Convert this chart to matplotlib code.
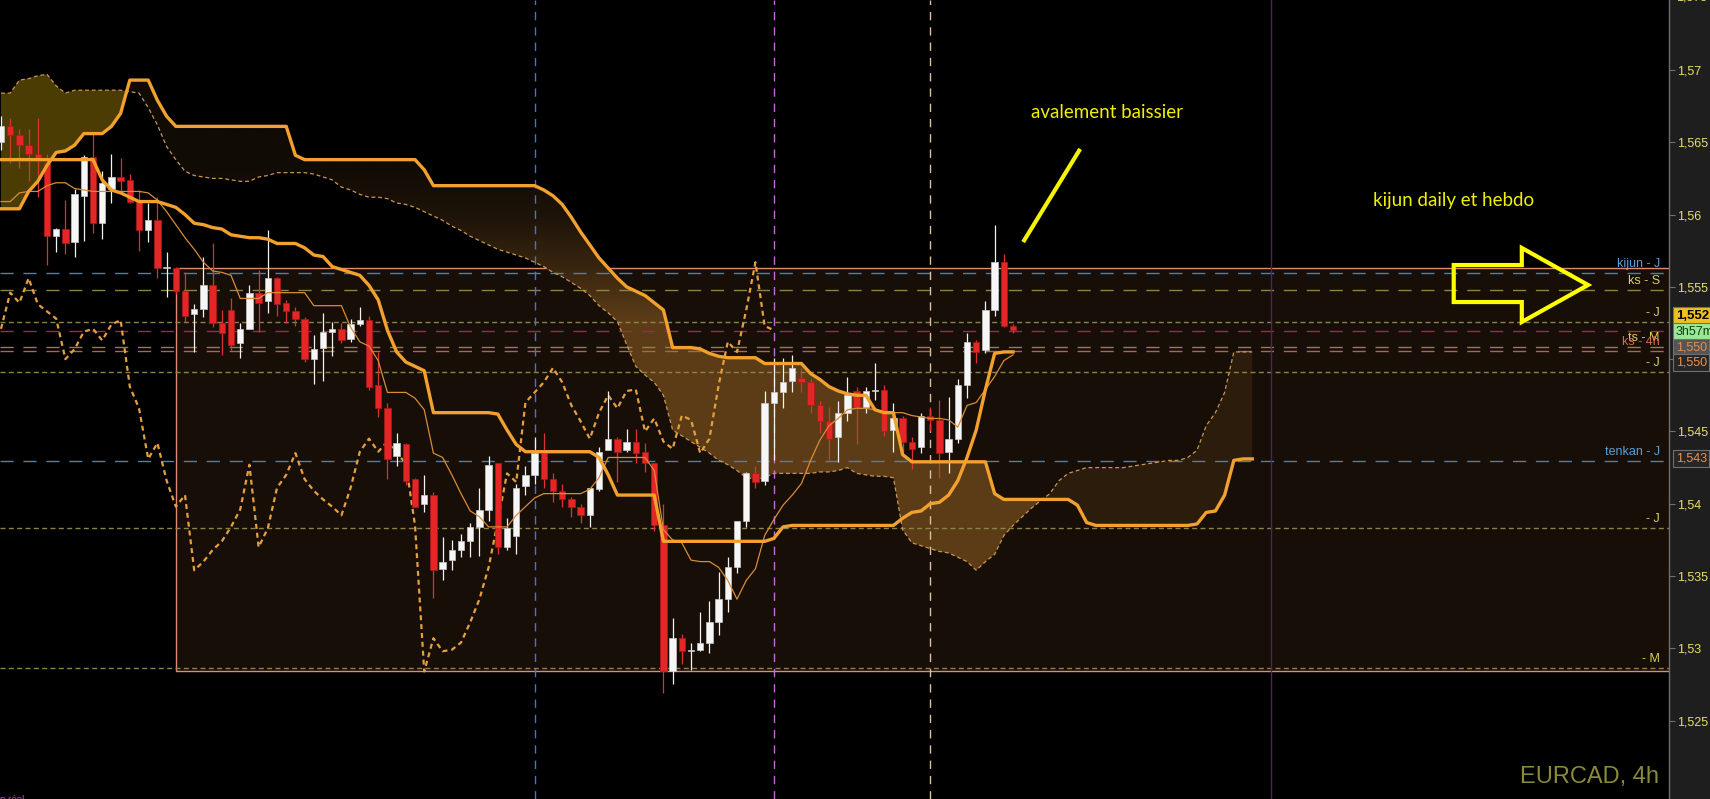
import matplotlib
matplotlib.use("Agg")
import matplotlib.pyplot as plt
import matplotlib.transforms as mtransforms
from matplotlib.colors import LinearSegmentedColormap
from matplotlib.patches import Rectangle, Polygon
from matplotlib.path import Path
import numpy as np

plt.rcParams['font.family'] = ['Liberation Sans', 'DejaVu Sans']
plt.rcParams['lines.scale_dashes'] = False

# EURCAD 4h candles, bar 0 = first candle on the left
opens = [
    1.5650, 1.5661, 1.5655, 1.5648, 1.5642, 1.5636, 1.5585, 1.5590, 1.5581, 1.5613,
    1.5640, 1.5594, 1.5618, 1.5626, 1.5624, 1.5609, 1.5589, 1.5596, 1.5563, 1.5563,
    1.5547, 1.5531, 1.5535, 1.5551, 1.5525, 1.5534, 1.5511, 1.5521, 1.5546, 1.5540,
    1.5556, 1.5539, 1.5533, 1.5528, 1.5500, 1.5508, 1.5519, 1.5521, 1.5514, 1.5524,
    1.5527, 1.5482, 1.5466, 1.5433, 1.5441, 1.5417, 1.5400, 1.5406, 1.5355, 1.5361,
    1.5368, 1.5374, 1.5384, 1.5396, 1.5428, 1.5370, 1.5378, 1.5412, 1.5420, 1.5435,
    1.5417, 1.5409, 1.5403, 1.5398, 1.5392, 1.5410, 1.5437, 1.5445, 1.5437, 1.5443,
    1.5436, 1.5428, 1.5385, 1.5284, 1.5307, 1.5298, 1.5299, 1.5304, 1.5318, 1.5334,
    1.5356, 1.5388, 1.5421, 1.5416, 1.5470, 1.5477, 1.5485, 1.5487, 1.5484, 1.5468,
    1.5457, 1.5446, 1.5463, 1.5478, 1.5467, 1.5478, 1.5479, 1.5451, 1.5459, 1.5443,
    1.5439, 1.5461, 1.5458, 1.5436, 1.5445, 1.5482, 1.5512, 1.5506, 1.5534, 1.5567,
    1.5523]
highs = [
    1.5668, 1.5667, 1.5659, 1.5659, 1.5667, 1.5642, 1.5591, 1.5610, 1.5618, 1.5641,
    1.5656, 1.5630, 1.5642, 1.5639, 1.5628, 1.5617, 1.5608, 1.5612, 1.5574, 1.5564,
    1.5560, 1.5538, 1.5571, 1.5580, 1.5534, 1.5542, 1.5525, 1.5551, 1.5562, 1.5589,
    1.5557, 1.5541, 1.5536, 1.5529, 1.5517, 1.5532, 1.5526, 1.5525, 1.5528, 1.5536,
    1.5530, 1.5505, 1.5470, 1.5449, 1.5442, 1.5418, 1.5420, 1.5408, 1.5377, 1.5375,
    1.5379, 1.5387, 1.5411, 1.5433, 1.5428, 1.5390, 1.5414, 1.5426, 1.5446, 1.5449,
    1.5421, 1.5414, 1.5405, 1.5400, 1.5411, 1.5439, 1.5478, 1.5446, 1.5452, 1.5452,
    1.5442, 1.5428, 1.5400, 1.5321, 1.5310, 1.5304, 1.5325, 1.5333, 1.5353, 1.5363,
    1.5388, 1.5422, 1.5426, 1.5478, 1.5501, 1.5501, 1.5503, 1.5494, 1.5486, 1.5471,
    1.5467, 1.5471, 1.5488, 1.5481, 1.5481, 1.5497, 1.5482, 1.5470, 1.5461, 1.5446,
    1.5463, 1.5467, 1.5472, 1.5474, 1.5486, 1.5518, 1.5513, 1.5540, 1.5593, 1.5573,
    1.5524]
lows = [
    1.5645, 1.5636, 1.5632, 1.5623, 1.5612, 1.5565, 1.5574, 1.5573, 1.5571, 1.5582,
    1.5587, 1.5583, 1.5608, 1.5615, 1.5608, 1.5575, 1.5581, 1.5556, 1.5543, 1.5545,
    1.5526, 1.5505, 1.5529, 1.5522, 1.5503, 1.5506, 1.5501, 1.5521, 1.5519, 1.5532,
    1.5530, 1.5525, 1.5523, 1.5498, 1.5483, 1.5485, 1.5502, 1.5511, 1.5512, 1.5523,
    1.5479, 1.5460, 1.5417, 1.5426, 1.5413, 1.5398, 1.5394, 1.5335, 1.5347, 1.5354,
    1.5363, 1.5363, 1.5364, 1.5388, 1.5365, 1.5368, 1.5365, 1.5406, 1.5414, 1.5411,
    1.5401, 1.5398, 1.5391, 1.5387, 1.5384, 1.5409, 1.5437, 1.5415, 1.5436, 1.5428,
    1.5422, 1.5381, 1.5269, 1.5275, 1.5289, 1.5285, 1.5298, 1.5297, 1.5309, 1.5325,
    1.5352, 1.5384, 1.5411, 1.5413, 1.5430, 1.5466, 1.5477, 1.5477, 1.5463, 1.5449,
    1.5430, 1.5429, 1.5457, 1.5441, 1.5463, 1.5472, 1.5447, 1.5436, 1.5436, 1.5424,
    1.5435, 1.5450, 1.5418, 1.5421, 1.5442, 1.5473, 1.5497, 1.5504, 1.5530, 1.5522,
    1.5518]
closes = [
    1.5661, 1.5655, 1.5648, 1.5642, 1.5638, 1.5585, 1.5590, 1.5580, 1.5614, 1.5640,
    1.5594, 1.5622, 1.5626, 1.5623, 1.5609, 1.5589, 1.5596, 1.5563, 1.5564, 1.5547,
    1.5530, 1.5535, 1.5551, 1.5525, 1.5518, 1.5510, 1.5521, 1.5546, 1.5539, 1.5556,
    1.5538, 1.5533, 1.5528, 1.5500, 1.5507, 1.5519, 1.5521, 1.5513, 1.5524, 1.5527,
    1.5481, 1.5466, 1.5431, 1.5442, 1.5416, 1.5398, 1.5406, 1.5354, 1.5360, 1.5368,
    1.5374, 1.5384, 1.5396, 1.5427, 1.5370, 1.5383, 1.5411, 1.5420, 1.5435, 1.5417,
    1.5409, 1.5403, 1.5398, 1.5392, 1.5411, 1.5436, 1.5445, 1.5436, 1.5443, 1.5435,
    1.5428, 1.5385, 1.5284, 1.5307, 1.5298, 1.5299, 1.5304, 1.5318, 1.5334, 1.5356,
    1.5388, 1.5421, 1.5415, 1.5470, 1.5477, 1.5484, 1.5494, 1.5484, 1.5468, 1.5457,
    1.5445, 1.5463, 1.5475, 1.5466, 1.5478, 1.5479, 1.5450, 1.5459, 1.5443, 1.5438,
    1.5461, 1.5458, 1.5435, 1.5445, 1.5482, 1.5512, 1.5505, 1.5534, 1.5567, 1.5523,
    1.5520]

# ichimoku lines
tenkan = [
    1.5609, 1.5609, 1.5615, 1.5616, 1.5616, 1.5620, 1.5622, 1.5622, 1.5618, 1.5617,
    1.5616, 1.5616, 1.5616, 1.5616, 1.5616, 1.5616, 1.5615, 1.5610, 1.5602, 1.5593,
    1.5584, 1.5576, 1.5567, 1.5561, 1.5560, 1.5558, 1.5542, 1.5542, 1.5542, 1.5546,
    1.5546, 1.5546, 1.5546, 1.5546, 1.5537, 1.5537, 1.5537, 1.5537, 1.5522, 1.5512,
    1.5509, 1.5499, 1.5477, 1.5477, 1.5477, 1.5473, 1.5465, 1.5435, 1.5432, 1.5420,
    1.5407, 1.5395, 1.5391, 1.5384, 1.5384, 1.5384, 1.5392, 1.5398, 1.5404, 1.5407,
    1.5407, 1.5407, 1.5407, 1.5407, 1.5410, 1.5418, 1.5432, 1.5432, 1.5432, 1.5432,
    1.5432, 1.5423, 1.5382, 1.5375, 1.5373, 1.5361, 1.5360, 1.5360, 1.5356, 1.5347,
    1.5334, 1.5347, 1.5355, 1.5378, 1.5389, 1.5399, 1.5406, 1.5414, 1.5430, 1.5444,
    1.5454, 1.5459, 1.5465, 1.5466, 1.5466, 1.5465, 1.5463, 1.5463, 1.5463, 1.5461,
    1.5460, 1.5459, 1.5459, 1.5458, 1.5453, 1.5468, 1.5470, 1.5479, 1.5488, 1.5499,
    1.5503]
kijun = ([1.5638] * 11 +
         [1.5624, 1.5617, 1.5615, 1.5612, 1.5609, 1.5609, 1.5609, 1.5607, 1.5605,
          1.5600, 1.5594, 1.5593, 1.5591, 1.5590, 1.5586, 1.5585, 1.5584, 1.5584, 1.5583,
          1.5580, 1.5580, 1.5580, 1.5577, 1.5572, 1.5571, 1.5564, 1.5562, 1.5560, 1.5558,
          1.5551, 1.5541, 1.5520, 1.5505, 1.5498, 1.5495, 1.5492] +
         [1.5463] * 7 + [1.5462, 1.5451, 1.5441, 1.5436] + [1.5436] * 7 +
         [1.5432, 1.5420, 1.5406] + [1.5406] * 4 + [1.5374] * 12 + [1.5376, 1.5384] +
         [1.5385] * 12 +
         [1.5390, 1.5394, 1.5395, 1.5400, 1.5401, 1.5406, 1.5416, 1.5432, 1.5451,
          1.5479, 1.5504, 1.5505, 1.5505])
senkou_a = [
    1.5684, 1.5684, 1.5693, 1.5694, 1.5696, 1.5697, 1.5689, 1.5684, 1.5686, 1.5686,
    1.5686, 1.5686, 1.5686, 1.5686, 1.5685, 1.5684, 1.5674, 1.5662, 1.5647, 1.5638,
    1.5630, 1.5627, 1.5626, 1.5625, 1.5625, 1.5624, 1.5623, 1.5623, 1.5626, 1.5627,
    1.5629, 1.5629, 1.5629, 1.5629, 1.5628, 1.5626, 1.5624, 1.5619, 1.5617, 1.5614,
    1.5612, 1.5612, 1.5611, 1.5608, 1.5607, 1.5605, 1.5602, 1.5599, 1.5596, 1.5592,
    1.5589, 1.5585, 1.5582, 1.5579, 1.5576, 1.5574, 1.5572, 1.5570, 1.5567, 1.5564,
    1.5560, 1.5557, 1.5553, 1.5549, 1.5544, 1.5537, 1.5532, 1.5526, 1.5510, 1.5495,
    1.5489, 1.5484, 1.5475, 1.5451, 1.5447, 1.5443, 1.5439, 1.5435, 1.5430, 1.5427,
    1.5423, 1.5418, 1.5417, 1.5418, 1.5421, 1.5421, 1.5421, 1.5421, 1.5421, 1.5422,
    1.5422, 1.5423, 1.5425, 1.5421, 1.5420, 1.5419, 1.5419, 1.5418, 1.5382, 1.5373,
    1.5371, 1.5369, 1.5367, 1.5366, 1.5363, 1.5360, 1.5354, 1.5360, 1.5365, 1.5378,
    1.5385, 1.5391, 1.5397, 1.5402, 1.5407, 1.5416, 1.5421, 1.5423, 1.5425, 1.5425,
    1.5425, 1.5425, 1.5425, 1.5426, 1.5427, 1.5428, 1.5429, 1.5430, 1.5430, 1.5432,
    1.5437, 1.5454, 1.5463, 1.5477, 1.5505, 1.5505, 1.5505]
senkou_b = ([1.5604, 1.5604, 1.5604, 1.5616, 1.5623, 1.5634, 1.5643, 1.5644, 1.5648, 1.5656,
             1.5656, 1.5656, 1.5661, 1.5670, 1.5693, 1.5693, 1.5693, 1.5679, 1.5668, 1.5661] +
            [1.5661] * 12 + [1.5641, 1.5638] + [1.5638] * 12 + [1.5631, 1.5620] +
            [1.5620] * 10 +
            [1.5620, 1.5617, 1.5613, 1.5607, 1.5598, 1.5588, 1.5579, 1.5570, 1.5563, 1.5556,
             1.5550, 1.5547, 1.5544, 1.5539, 1.5534, 1.5508, 1.5508, 1.5508, 1.5507, 1.5504,
             1.5502, 1.5501, 1.5501, 1.5501, 1.5501, 1.5497, 1.5497, 1.5497, 1.5497, 1.5497,
             1.5490, 1.5486, 1.5481, 1.5478, 1.5476, 1.5475, 1.5475, 1.5465, 1.5463, 1.5463,
             1.5434, 1.5429] + [1.5429] * 8 + [1.5407, 1.5403] + [1.5403] * 7 +
            [1.5399, 1.5387, 1.5385] + [1.5385] * 10 +
            [1.5386, 1.5394, 1.5395, 1.5406, 1.5430, 1.5431, 1.5431])
chikou_shift = 26

# horizontal levels drawn across the chart
level_prices = [1.55596, 1.55478, 1.55257, 1.55195, 1.55084, 1.55057, 1.54911, 1.54296, 1.53832, 1.52864]
level_names = ['kijun - J', 'ks - S', '- J', '', 'ts - M', 'ks - 4h', '- J', 'tenkan - J', '- J', '- M']

# boxed zone and vertical markers
zone_start = 19
zone_top = 1.5563
zone_bottom = 1.52843
vline_bars = [58, 84, 101, 138]

ytick_values = [1.525, 1.53, 1.535, 1.54, 1.545, 1.55, 1.555, 1.56, 1.565, 1.57]
ytick_labels = ['1,525', '1,53', '1,535', '1,54', '1,545', '1,55', '1,555', '1,56', '1,565', '1,57']

tag_texts = ['1,552', '3h57m', '1,550', '1,550', '1,543']
tag_prices = [1.5530, 1.5519, 1.5508, 1.5498, 1.5431]

# ---------------------------------------------------------------
fig = plt.figure(figsize=(17.1, 7.99), dpi=100, facecolor='#1e1e1e')
ax = fig.add_axes([0, 0, 1669 / 1710, 1])
ax.set_facecolor('black')

o = np.array(opens); h = np.array(highs); l = np.array(lows); c = np.array(closes)
idx = np.arange(len(c))
sa = np.array(senkou_a); sb = np.array(senkou_b); xc = np.arange(len(sa))

# zone rectangle
ax.add_patch(Rectangle((zone_start, zone_bottom), 250, zone_top - zone_bottom,
                       facecolor='#170e08', edgecolor='#e08a72', lw=1.0, zorder=0.8))

# cloud
ax.fill_between(xc, sa, sb, where=(sa > sb) & (xc < 50), interpolate=True,
                facecolor='#4b3c04', edgecolor='none', zorder=1.1)
ax.fill_between(xc, sa, sb, where=(sa > sb) & (xc > 100), interpolate=True,
                facecolor='#2b1c0b', edgecolor='none', zorder=1.1)
bear = ax.fill_between(xc, sa, sb, where=sb > sa, interpolate=True,
                       facecolor='none', edgecolor='none', zorder=1.1)
clip = Path.make_compound_path(*bear.get_paths())
cloud_cmap = LinearSegmentedColormap.from_list('cloud', ['#5c3c17', '#3a260f', '#1e1409', '#110b05'])
yy = np.linspace(1.525, 1.575, 400)
frac = np.clip((yy - 1.5528) / 0.0105, 0, 1)
img = ax.imshow(frac.reshape(-1, 1), extent=[-2, 140, 1.525, 1.575], origin='lower',
                aspect='auto', cmap=cloud_cmap, vmin=0, vmax=1, zorder=1.2,
                interpolation='bilinear')
img.set_clip_path(clip, ax.transData)

# horizontal levels
long_d = (9.5, 7.0)
short_d = (3.6, 2.4)
level_colors = ['#4f80aa', '#8c8446', '#8c8446', '#a0284a', '#8c8446', '#b4624a',
                '#8c8446', '#4f80aa', '#8c8446', '#8c8446']
level_dash = [long_d, long_d, short_d, long_d, long_d, long_d, short_d, long_d, short_d, short_d]
label_colors = ['#5aa0dc', '#d8d060', '#d8d060', '#d8d060', '#e2d24a', '#d26c52',
                '#d8d060', '#5aa0dc', '#d8d060', '#d8d060']
trans = mtransforms.blended_transform_factory(ax.transAxes, ax.transData)
for p, name, col, ds, lc in zip(level_prices, level_names, level_colors, level_dash, label_colors):
    ax.axhline(p, color=col, lw=1.0, dashes=ds, zorder=1.5)
    if name:
        ax.annotate(name, xy=(0.9945, p), xycoords=trans, xytext=(0, 9),
                    textcoords='offset pixels', ha='right', va='center',
                    color=lc, fontsize=9, zorder=8)

# vertical markers
ax.axvline(vline_bars[0], color='#4f6fd0', lw=1.0, dashes=(6, 5), zorder=1.6)
ax.axvline(vline_bars[1], color='#c66ad8', lw=1.0, dashes=(6, 5), zorder=1.6)
ax.axvline(vline_bars[2], color='#dcc0a0', lw=1.0, dashes=(6, 5), zorder=1.6)
ax.axvline(vline_bars[3], color='#4e2460', lw=1.0, zorder=1.6)

# cloud borders and chikou
ax.plot(xc, sa, color='#c99650', lw=0.9, dashes=(2.8, 2.0), zorder=3)
ax.plot(xc, sb, color='#f2a02e', lw=2.4, zorder=7)
ax.plot(idx[chikou_shift:] - chikou_shift, c[chikou_shift:], color='#e4a040',
        lw=1.6, dashes=(3.6, 2.8), zorder=3)

# candles
up = c >= o
body_lo = np.minimum(o, c)
body_h = np.maximum(np.abs(c - o), 0.00004)
ax.vlines(idx[up], l[up], h[up], color='#f2f2f2', lw=0.9, zorder=5)
ax.vlines(idx[~up], l[~up], h[~up], color='#d83434', lw=0.9, zorder=5)
ax.bar(idx[up], body_h[up], bottom=body_lo[up], width=0.7, color='#f6f6f6',
       edgecolor='#c8c8c8', lw=0.5, zorder=6)
ax.bar(idx[~up], body_h[~up], bottom=body_lo[~up], width=0.7, color='#e42626',
       edgecolor='#b01818', lw=0.5, zorder=6)

# tenkan / kijun
ax.plot(idx, tenkan, color='#d88c36', lw=0.9, zorder=6.5)
ax.plot(idx, kijun, color='#f2a02e', lw=2.4, zorder=7)

# annotations
ax.text(120.2, 1.56709, 'avalement baissier', color='#f0f000', fontsize=13.5,
        family=['Lato', 'DejaVu Sans'], ha='center', va='center', zorder=9)
ax.plot([117.3, 111.1], [1.56454, 1.55810], color='#f4f400', lw=3, solid_capstyle='butt', zorder=9)
ax.text(157.9, 1.56094, 'kijun daily et hebdo', color='#f0f000', fontsize=13.5,
        family=['Lato', 'DejaVu Sans'], ha='center', va='center', zorder=9)
arrow_pts = [(157.9, 1.55651), (165.3, 1.55651), (165.3, 1.55769), (172.5, 1.55513),
             (165.3, 1.55257), (165.3, 1.55395), (157.9, 1.55395)]
ax.add_patch(Polygon(arrow_pts, closed=True, fill=False, edgecolor='#ffff00',
                     lw=3, joinstyle='miter', zorder=9))
ax.text(0.994, 0.028, 'EURCAD, 4h', transform=ax.transAxes, ha='right', va='center',
        color='#8a8a3a', fontsize=17, zorder=9)
ax.text(0.0, -0.001, 'p réel', transform=ax.transAxes, ha='left', va='center',
        color='#c040c0', fontsize=7, zorder=9)

# axes
ax.set_xlim(-0.11, 181.3)
ax.set_ylim(1.51958, 1.57484)
ax.set_xticks([])
ax.yaxis.tick_right()
ax.set_yticks(ytick_values)
ax.set_yticklabels(ytick_labels)
ax.tick_params(axis='y', colors='#707070', labelcolor='#e6de6e', length=4,
               width=0.8, pad=2, labelsize=9)
for s in ['top', 'left', 'bottom']:
    ax.spines[s].set_visible(False)
ax.spines['right'].set_color('#6e6e6e')
ax.spines['right'].set_linewidth(1.0)
ax.text(1.004, 1.575, '1,575', transform=trans, ha='left', va='center',
        color='#e6de6e', fontsize=9, clip_on=False)

# price tags on the axis
tag_face = ['#f0c020', '#98e898', '#555555', '#262626', '#262626']
tag_color = ['black', '#104010', '#e09050', '#f09048', '#f09048']
tag_weight = ['bold', 'normal', 'normal', 'normal', 'normal']
tag_size = [9.5, 9, 9, 9, 9]
for t, p, fc, tc, fw, fs in zip(tag_texts, tag_prices, tag_face, tag_color, tag_weight, tag_size):
    ax.text(1.004, p, t, transform=trans, ha='left', va='center', color=tc,
            fontsize=fs, fontweight=fw, clip_on=False, zorder=10,
            bbox=dict(boxstyle='square,pad=0.2', fc=fc, ec='#707070', lw=0.8))

fig.savefig('out.png', dpi=100, facecolor=fig.get_facecolor())
